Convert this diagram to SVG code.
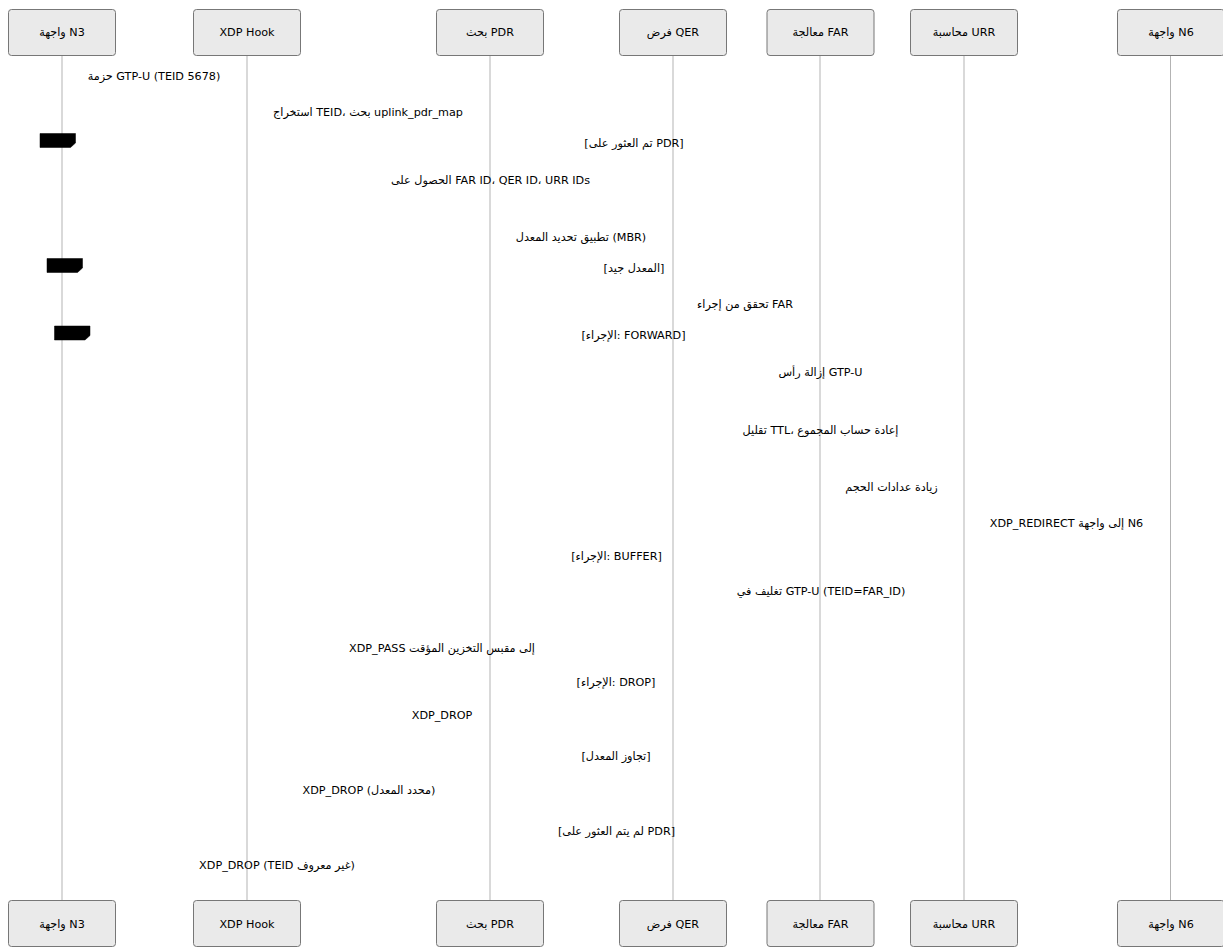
<svg xmlns="http://www.w3.org/2000/svg" width="1223" height="947" viewBox="0 0 1223 947">
<style>
.actor{fill:#eaeaea;stroke:#777;stroke-width:1}
.life{stroke:#b3b3b3;stroke-width:1}
text{font-family:"DejaVu Sans","Noto Sans",sans-serif;font-size:11.2px;fill:#000;text-anchor:middle}
.tab{fill:#000;stroke:#000;stroke-width:0.5}
</style>
<rect width="1223" height="947" fill="#fff"/>
<g id="lifelines">
<line class="life" x1="62" y1="55" x2="62" y2="901"/>
<line class="life" x1="247" y1="55" x2="247" y2="901"/>
<line class="life" x1="490" y1="55" x2="490" y2="901"/>
<line class="life" x1="673" y1="55" x2="673" y2="901"/>
<line class="life" x1="820" y1="55" x2="820" y2="901"/>
<line class="life" x1="964" y1="55" x2="964" y2="901"/>
<line class="life" x1="1170.5" y1="55" x2="1170.5" y2="901"/>
</g>
<g id="n3">
<rect class="actor" x="8.5" y="9.5" width="107" height="46" rx="3"/>
<text x="62" y="36">واجهة N3</text>
<rect class="actor" x="8.5" y="900.5" width="107" height="46" rx="3"/>
<text x="62" y="928">واجهة N3</text>
</g>
<g id="xdp">
<rect class="actor" x="193.5" y="9.5" width="107" height="46" rx="3"/>
<text x="247" y="36">XDP Hook</text>
<rect class="actor" x="193.5" y="900.5" width="107" height="46" rx="3"/>
<text x="247" y="928">XDP Hook</text>
</g>
<g id="pdr">
<rect class="actor" x="436.5" y="9.5" width="107" height="46" rx="3"/>
<text x="490" y="36">بحث PDR</text>
<rect class="actor" x="436.5" y="900.5" width="107" height="46" rx="3"/>
<text x="490" y="928">بحث PDR</text>
</g>
<g id="qer">
<rect class="actor" x="619.5" y="9.5" width="107" height="46" rx="3"/>
<text x="673" y="36">فرض QER</text>
<rect class="actor" x="619.5" y="900.5" width="107" height="46" rx="3"/>
<text x="673" y="928">فرض QER</text>
</g>
<g id="far">
<rect class="actor" x="767" y="9.5" width="107" height="46" rx="3"/>
<text x="820.5" y="36">معالجة FAR</text>
<rect class="actor" x="767" y="900.5" width="107" height="46" rx="3"/>
<text x="820.5" y="928">معالجة FAR</text>
</g>
<g id="urr">
<rect class="actor" x="910.5" y="9.5" width="107" height="46" rx="3"/>
<text x="964" y="36">محاسبة URR</text>
<rect class="actor" x="910.5" y="900.5" width="107" height="46" rx="3"/>
<text x="964" y="928">محاسبة URR</text>
</g>
<g id="n6">
<rect class="actor" x="1117.5" y="9.5" width="107" height="46" rx="3"/>
<text x="1171" y="36">واجهة N6</text>
<rect class="actor" x="1117.5" y="900.5" width="107" height="46" rx="3"/>
<text x="1171" y="928">واجهة N6</text>
</g>
<g id="frames">
<polygon class="tab" points="40,133.5 75.5,133.5 75.5,143 70.5,147.5 40,147.5"/>
<polygon class="tab" points="47,258.5 82.5,258.5 82.5,268 77.5,272.5 47,272.5"/>
<polygon class="tab" points="54.5,326 90,326 90,335.5 85,340 54.5,340"/>
</g>
<g id="connectors">
<text x="154" y="80">حزمة GTP-U (TEID 5678)</text>
<text x="368" y="116">استخراج TEID، بحث uplink_pdr_map</text>
<text x="634" y="147">[تم العثور على PDR]</text>
<text x="490.5" y="184">الحصول على FAR ID، QER ID، URR IDs</text>
<text x="581" y="241">تطبيق تحديد المعدل (MBR)</text>
<text x="634" y="272">[المعدل جيد]</text>
<text x="745" y="308">تحقق من إجراء FAR</text>
<text x="633.5" y="339">[الإجراء: FORWARD]</text>
<text x="820.5" y="376">إزالة رأس GTP-U</text>
<text x="820.5" y="434">تقليل TTL، إعادة حساب المجموع</text>
<text x="891.5" y="491">زيادة عدادات الحجم</text>
<text x="1066.5" y="527">XDP_REDIRECT إلى واجهة N6</text>
<text x="616.5" y="560">[الإجراء: BUFFER]</text>
<text x="821" y="595">تغليف في GTP-U (TEID=FAR_ID)</text>
<text x="442" y="652">XDP_PASS إلى مقبس التخزين المؤقت</text>
<text x="616" y="686">[الإجراء: DROP]</text>
<text x="442" y="719">XDP_DROP</text>
<text x="616" y="760">[تجاوز المعدل]</text>
<text x="369" y="794">XDP_DROP (محدد المعدل)</text>
<text x="616.5" y="835">[لم يتم العثور على PDR]</text>
<text x="277" y="869">XDP_DROP (TEID غير معروف)</text>
</g>
</svg>
